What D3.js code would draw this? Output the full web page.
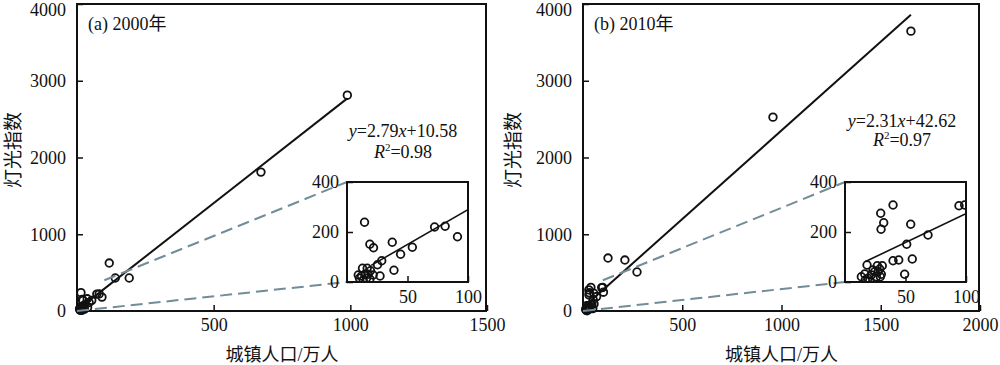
<!DOCTYPE html>
<html><head><meta charset="utf-8">
<script src="https://cdn.jsdelivr.net/npm/d3@7"></script>
<style>
body{margin:0;background:#fff}
svg text{font-family:"Liberation Serif","Noto Sans CJK SC",serif !important;fill:#111}
</style>
</head><body>
<svg id="c" width="1000" height="365"></svg>
<script>
// ---------------- data ----------------
const panelLabels = ["(a) 2000年", "(b) 2010年"];
const xAxisTitle = "城镇人口/万人";
const yAxisTitle = "灯光指数";
const xDomainMax = [1500, 2000];
const xTicksA = [500, 1000, 1500];
const xTicksB = [500, 1000, 1500, 2000];
const yTicks = [0, 1000, 2000, 3000, 4000];
const insetXTicks = [50, 100];
const insetYTicks = [0, 200, 400];
const slopes = [2.79, 2.31];
const intercepts = [10.58, 42.62];
const slopeText = ["2.79", "2.31"];
const interceptText = ["10.58", "42.62"];
const r2Text = ["0.98", "0.97"];
const fitStart = [20, 17];

// 2000 (a): urban population (10k) vs night light index
const popA = [989, 673, 118, 140, 191,
  14.5, 18.9, 21.9, 37.4, 44.3, 54, 72.4, 81.1, 91.3, 38.8, 27.3, 28.7, 25.2,
  12.8, 16.7, 19.4, 9.3, 12, 14.8, 17.5, 13.4, 16.1, 18.9, 21.6, 10.3];
const lightA = [2812, 1810, 625, 430, 430,
  239, 151, 137, 159, 111, 139, 220, 223, 181, 47, 24, 85, 69,
  55, 55, 45, 28, 24, 31, 31, 8, 15, 12, 28, 15];

// 2010 (b)
const popB = [1652, 957, 126, 211, 272, 103,
  39.7, 29.5, 32, 29.8, 54.3, 94.2, 98.9, 68.6, 51, 39.7, 44.4, 55.6, 49.3, 18.2,
  13.5, 16.3, 19, 21.8, 24.5, 26.7, 30.8, 27.3, 30, 25.9, 29.2, 20.4, 16.8, 23.1, 28.7];
const lightB = [3646, 2526, 690, 664, 508, 245,
  308, 275, 237, 211, 231, 305, 308, 188, 151, 85, 88, 92, 31, 68,
  21, 32, 15, 28, 41, 65, 65, 41, 31, 21, 21, 4, 8, 48, 52];

// ---------------- layout ----------------
const svg = d3.select("#c");
const panels = [
  {x0: 77, x1: 487, ix0: 347, ix1: 468, pop: popA, light: lightA, xt: xTicksA, ylab: 13, eqY: 137, r2Y: 158, eqX: 403},
  {x0: 583, x1: 980, ix0: 845, ix1: 966, pop: popB, light: lightB, xt: xTicksB, ylab: 513, eqY: 127, r2Y: 146, eqX: 902}
];
const topY = 4, bottomY = 311, iTop = 182, iBot = 282;
const dashColor = "#728c98";
const serif = '"Liberation Serif", serif';

panels.forEach((p, i) => {
  const g = svg.append("g");
  const x = d3.scaleLinear().domain([0, xDomainMax[i]]).range([p.x0, p.x1]);
  const y = d3.scaleLinear().domain([0, 4000]).range([bottomY, topY]);
  const pts = p.pop.map((v, k) => [v, p.light[k]]);

  // axes (inward ticks)
  const xa = g.append("g").attr("transform", `translate(0,${bottomY})`)
    .call(d3.axisTop(x).tickValues(p.xt).tickSize(6).tickFormat(d3.format("d")));
  xa.attr("font-family", null).attr("font-size", null);
  xa.select(".domain").remove();
  xa.selectAll("line").attr("stroke", "#111").attr("stroke-width", 1.5);
  xa.selectAll("text").attr("y", 7).attr("dy", "0.71em").style("font-size", "18px")
    .style("font-family", serif).attr("fill", "#111");
  const ya = g.append("g").attr("transform", `translate(${p.x0},0)`)
    .call(d3.axisRight(y).tickValues(yTicks).tickSize(6).tickFormat(d3.format("d")));
  ya.attr("font-family", null).attr("font-size", null);
  ya.select(".domain").remove();
  ya.selectAll("line").attr("stroke", "#111").attr("stroke-width", 1.5);
  ya.selectAll("text").attr("x", -11).attr("y", d => d === 4000 ? 6 : 0)
    .attr("text-anchor", "end").style("font-size", "18px")
    .style("font-family", serif).attr("fill", "#111");

  // frame
  g.append("rect").attr("x", p.x0).attr("y", topY).attr("width", p.x1 - p.x0 - 1).attr("height", bottomY - topY)
    .attr("fill", "none").attr("stroke", "#111").attr("stroke-width", 2);

  // main fit line
  const xs = [fitStart[i], d3.max(p.pop)];
  g.append("line")
    .attr("x1", x(xs[0])).attr("y1", y(slopes[i] * xs[0] + intercepts[i]))
    .attr("x2", x(xs[1])).attr("y2", y(slopes[i] * xs[1] + intercepts[i]))
    .attr("stroke", "#111").attr("stroke-width", 2);

  // points
  g.append("g").selectAll("circle").data(pts).join("circle")
    .attr("cx", d => x(d[0])).attr("cy", d => y(d[1])).attr("r", 3.8)
    .attr("fill", "none").attr("stroke", "#111").attr("stroke-width", 1.8);

  // inset scales
  const ix = d3.scaleLinear().domain([0, 100]).range([p.ix0, p.ix1]);
  const iy = d3.scaleLinear().domain([0, 400]).range([iBot, iTop]);

  // dashed connectors
  g.append("line").attr("x1", x(0)).attr("y1", y(0)).attr("x2", ix(0)).attr("y2", iy(0))
    .attr("stroke", dashColor).attr("stroke-width", 2).attr("stroke-dasharray", "12,6");
  g.append("line").attr("x1", x(100)).attr("y1", y(400)).attr("x2", ix(0)).attr("y2", iy(400))
    .attr("stroke", dashColor).attr("stroke-width", 2).attr("stroke-dasharray", "12,6");

  // inset
  const ig = g.append("g");
  ig.append("rect").attr("x", p.ix0).attr("y", iTop).attr("width", p.ix1 - p.ix0).attr("height", iBot - iTop)
    .attr("fill", "#fff");
  const cid = "clip" + i;
  ig.append("clipPath").attr("id", cid).append("rect")
    .attr("x", p.ix0).attr("y", iTop).attr("width", p.ix1 - p.ix0).attr("height", iBot - iTop);
  const inner = ig.append("g").attr("clip-path", `url(#${cid})`);
  const ipts = pts.filter(d => d[0] <= 100 && d[1] <= 400);
  inner.selectAll("circle").data(ipts).join("circle")
    .attr("cx", d => ix(d[0])).attr("cy", d => iy(d[1])).attr("r", 3.8)
    .attr("fill", "none").attr("stroke", "#111").attr("stroke-width", 1.8);
  inner.append("line")
    .attr("x1", ix(fitStart[i])).attr("y1", iy(slopes[i] * fitStart[i] + intercepts[i]))
    .attr("x2", ix(110)).attr("y2", iy(slopes[i] * 110 + intercepts[i]))
    .attr("stroke", "#111").attr("stroke-width", 1.6);

  const ixa = ig.append("g").attr("transform", `translate(0,${iBot})`)
    .call(d3.axisTop(ix).tickValues(insetXTicks).tickSize(6));
  ixa.attr("font-family", null).attr("font-size", null);
  ixa.select(".domain").remove();
  ixa.selectAll("line").attr("stroke", "#111").attr("stroke-width", 1.5);
  ixa.selectAll("text").attr("y", 8).attr("dy", "0.71em").style("font-size", "18px")
    .style("font-family", serif).attr("fill", "#111");
  const iya = ig.append("g").attr("transform", `translate(${p.ix0},0)`)
    .call(d3.axisRight(iy).tickValues(insetYTicks).tickSize(6));
  iya.attr("font-family", null).attr("font-size", null);
  iya.select(".domain").remove();
  iya.selectAll("line").attr("stroke", "#111").attr("stroke-width", 1.5);
  iya.selectAll("text").attr("x", -8).attr("text-anchor", "end").style("font-size", "18px")
    .style("font-family", serif).attr("fill", "#111");
  ig.append("rect").attr("x", p.ix0).attr("y", iTop).attr("width", p.ix1 - p.ix0).attr("height", iBot - iTop)
    .attr("fill", "none").attr("stroke", "#111").attr("stroke-width", 2);

  // texts
  g.append("text").attr("x", p.x0 + 11).attr("y", 30).style("font-size", "18px").text(panelLabels[i]);
  const eq = g.append("text").attr("x", p.eqX).attr("y", p.eqY).attr("text-anchor", "middle").style("font-size", "18px");
  eq.append("tspan").attr("font-style", "italic").text("y");
  eq.append("tspan").text("=" + slopeText[i]);
  eq.append("tspan").attr("font-style", "italic").text("x");
  eq.append("tspan").text("+" + interceptText[i]);
  const r = g.append("text").attr("x", p.eqX).attr("y", p.r2Y).attr("text-anchor", "middle").style("font-size", "18px");
  r.append("tspan").attr("font-style", "italic").text("R");
  r.append("tspan").style("font-size", "11px").attr("dy", -7).text("2");
  r.append("tspan").attr("dy", 7).text("=" + r2Text[i]);

  g.append("text").attr("x", (p.x0 + p.x1) / 2).attr("y", 361).attr("text-anchor", "middle")
    .style("font-size", "18px").text(xAxisTitle);
  g.append("text").attr("transform", `translate(${p.ylab},150) rotate(-90)`).attr("text-anchor", "middle")
    .attr("dy", "0.35em").style("font-size", "19px").text(yAxisTitle);
});
</script>
</body></html>
